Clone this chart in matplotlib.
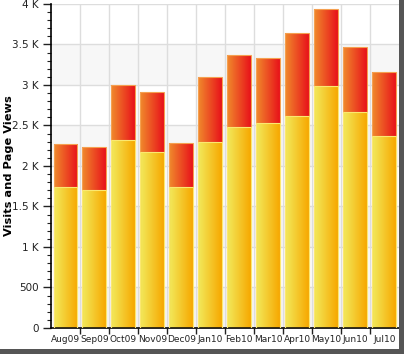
import numpy as np
import matplotlib
matplotlib.use("Agg")
import matplotlib.pyplot as plt
from matplotlib.colors import LinearSegmentedColormap
from matplotlib.patches import Rectangle
from matplotlib.ticker import MultipleLocator, FuncFormatter

# ---- data --------------------------------------------------------------------
months = ["Aug09", "Sep09", "Oct09", "Nov09", "Dec09", "Jan10",
          "Feb10", "Mar10", "Apr10", "May10", "Jun10", "Jul10"]
page_views = [2270, 2230, 3000, 2910, 2280, 3100, 3370, 3330, 3640, 3940, 3470, 3160]
visits = [1740, 1700, 2320, 2170, 1740, 2300, 2480, 2530, 2620, 2990, 2670, 2370]

red_cmap = LinearSegmentedColormap.from_list("red", ["#f08a2c", "#e8121a"])
yel_cmap = LinearSegmentedColormap.from_list("yel", ["#f2ea5c", "#f7a800"])

fig = plt.figure(figsize=(4.04, 3.64), dpi=100)
ax = fig.add_axes([0.126, 0.099, 0.861, 0.890])

x = np.arange(len(months))
width = 0.82
ymax = 4000

# alternating horizontal bands + grid
for k, lo in enumerate(range(0, ymax, 500)):
    if k % 2 == 0:
        ax.axhspan(lo, lo + 500, color="#f7f7f7", zorder=0, lw=0)
for lo in range(500, ymax + 1, 500):
    ax.axhline(lo, color="#dddddd", lw=1, zorder=0.5)
for b in np.arange(0.5, len(months) - 0.5, 1):
    ax.axvline(b, color="#dddddd", lw=1, zorder=0.5)

grad = np.linspace(0, 1, 64).reshape(1, -1)


def gradient_bar(xc, h, cmap, edge):
    rect = Rectangle((xc - width / 2, 0), width, h, facecolor="none",
                     edgecolor=edge, lw=0.8, zorder=3)
    ax.add_patch(rect)
    im = ax.imshow(grad, cmap=cmap, aspect="auto", zorder=2,
                   extent=(xc - width / 2, xc + width / 2, 0, h))
    im.set_clip_path(rect)


for xi, pv, vi in zip(x, page_views, visits):
    gradient_bar(xi, pv, red_cmap, "#f5a050")
    gradient_bar(xi, vi, yel_cmap, "#fbe870")

ax.set_xlim(-0.5, len(months) - 0.5)
ax.set_ylim(0, ymax)

ax.yaxis.set_major_locator(MultipleLocator(500))
ax.yaxis.set_minor_locator(MultipleLocator(100))
ax.yaxis.set_major_formatter(FuncFormatter(
    lambda v, _: f"{v / 1000:g} K" if v >= 1000 else f"{int(v)}"))
ax.tick_params(axis="y", which="major", length=6, width=1, labelsize=7.5,
               colors="#222222", pad=3)
ax.tick_params(axis="y", which="minor", length=3, width=0.8, color="#222222")

ax.set_xticks(np.arange(0.5, len(months) - 0.5, 1))
ax.set_xticklabels([])
ax.set_xticks(x, minor=True)
ax.set_xticklabels(months, minor=True, fontsize=6.5, color="#222222")
ax.tick_params(axis="x", which="major", length=4, width=1, color="#222222")
ax.tick_params(axis="x", which="minor", length=0, pad=5)

ax.set_ylabel("Visits and Page Views", fontsize=8.2, fontweight="bold")
ax.yaxis.set_label_coords(-0.105, 0.5)

for side in ("top", "right"):
    ax.spines[side].set_visible(False)
ax.spines["left"].set_linewidth(1.2)
ax.spines["bottom"].set_linewidth(1.2)

# screenshot drop shadow on right and bottom
fig.patches.append(Rectangle((0.988, 0.03), 0.012, 0.97, transform=fig.transFigure,
                             facecolor="#555555", edgecolor="none"))
fig.patches.append(Rectangle((0.0, 0.028), 1.0, 0.012, transform=fig.transFigure,
                             facecolor="#555555", edgecolor="none"))
fig.patches.append(Rectangle((0.0, 0.0), 1.0, 0.028, transform=fig.transFigure,
                             facecolor="#ffffff", edgecolor="none"))

fig.savefig("out.png", dpi=100)
